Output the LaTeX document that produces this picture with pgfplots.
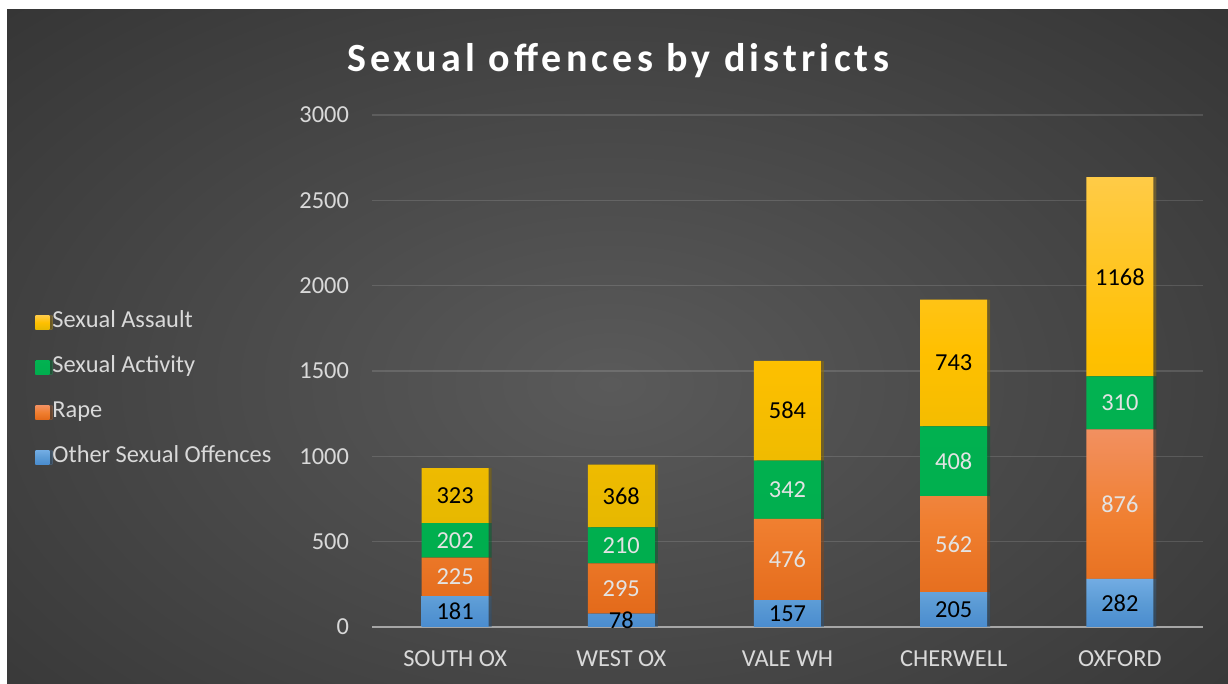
\documentclass[border=0pt]{standalone}
\usepackage{fontspec}
\setmainfont{Carlito}
\usepackage{pgfplots}
\pgfplotsset{compat=1.18}
\usepackage{pgfplotstable}
\usetikzlibrary{shadows}

\definecolor{bgin}{HTML}{5A5A5A}
\definecolor{bgout}{HTML}{262626}
\definecolor{lightt}{HTML}{D9D9D9}
\definecolor{labl}{HTML}{E3E3E3}
\definecolor{bluT}{HTML}{72ACE3}
\definecolor{bluM}{HTML}{5B9BD5}
\definecolor{bluB}{HTML}{4A8CCF}
\definecolor{orT}{HTML}{F29060}
\definecolor{orM}{HTML}{F07F30}
\definecolor{orB}{HTML}{E36A1A}
\definecolor{grT}{HTML}{02B251}
\definecolor{grB}{HTML}{00AE4E}
\definecolor{yeT}{HTML}{FFCB47}
\definecolor{yeM}{HTML}{FFC000}
\definecolor{yeB}{HTML}{E6B800}
\definecolor{axc}{HTML}{A6A6A6}

\pgfplotstableread{
x val
0 181
1 78
2 157
3 205
4 282
}\tother
\pgfplotstableread{
x val
0 225
1 295
2 476
3 562
4 876
}\trape
\pgfplotstableread{
x val
0 202
1 210
2 342
3 408
4 310
}\tact
\pgfplotstableread{
x val
0 323
1 368
2 584
3 743
4 1168
}\tass

\newcommand{\lblfont}{\fontsize{12.2}{14}\selectfont}

\begin{document}
\begin{tikzpicture}
\path[use as bounding box] (0,0) rectangle (614pt,342pt);
\fill[white] (0,0) rectangle (614pt,342pt);
\begin{scope}
\clip (3.5pt,0) rectangle (614pt,337pt);
\shade[inner color=bgin, outer color=bgout] (-315pt,-230pt) rectangle (925pt,530pt);
\end{scope}
\begin{axis}[
  at={(186pt,28.5pt)}, anchor=south west,
  scale only axis, width=415.5pt, height=256pt,
  ymin=0, ymax=3000, xmin=-0.5, xmax=4.5,
  ybar stacked, bar width=33.5pt,
  xtick={0,1,2,3,4},
  xticklabels={SOUTH OX,WEST OX,VALE WH,CHERWELL,OXFORD},
  ytick={0,500,1000,1500,2000,2500,3000},
  /pgf/number format/1000 sep={},
  /pgf/number format/assume math mode=true,
  axis x line*=bottom, axis y line*=left,
  x axis line style={draw=axc, line width=0.9pt},
  y axis line style={draw=none},
  major tick length=0pt,
  ymajorgrids, grid style={white, opacity=0.13, line width=0.6pt},
  ticklabel style={font=\lblfont, text=lightt},
  yticklabel style={xshift=-8pt},
  xticklabel style={yshift=-8.5pt},
  title={\addfontfeature{LetterSpace=10.5}Sexual offences by districts},
  title style={at={(axis description cs:0.296,1.082)}, anchor=center,
    font=\fontsize{20}{24}\bfseries, text=white},
  point meta=explicit,
  nodes near coords={\pgfmathprintnumber[1000 sep={},assume math mode=true]{\pgfplotspointmeta}},
  every node near coord/.append style={anchor=center, font=\lblfont},
  legend style={at={(axis description cs:-0.4055,0.622)}, anchor=north west,
    draw=none, fill=none, inner sep=0pt, font=\lblfont, text=lightt,
    row sep=9pt,
    nodes={inner sep=1.5pt, text height=8pt, text depth=2.5pt}},
  legend cell align=left,
  reverse legend,
  legend image code/.code={\fill[#1] (0pt,-3.5pt) rectangle (7pt,3.5pt);},
  barshadow/.style={drop shadow={shadow xshift=1.5pt, shadow yshift=0pt, opacity=0.3, fill=black}},
]
\addplot[draw=none, barshadow, top color=bluT, bottom color=bluB, middle color=bluM,
  every node near coord/.append style={text=black}]
  table[x=x, y=val, meta=val] {\tother};
\addlegendentry{Other Sexual Offences}
\addplot[draw=none, barshadow, top color=orT, bottom color=orB, middle color=orM,
  every node near coord/.append style={text=labl}]
  table[x=x, y=val, meta=val] {\trape};
\addlegendentry{Rape}
\addplot[draw=none, barshadow, top color=grT, bottom color=grB,
  every node near coord/.append style={text=labl}]
  table[x=x, y=val, meta=val] {\tact};
\addlegendentry{Sexual Activity}
\addplot[draw=none, barshadow, top color=yeT, bottom color=yeB, middle color=yeM,
  every node near coord/.append style={text=black}]
  table[x=x, y=val, meta=val] {\tass};
\addlegendentry{Sexual Assault}
\end{axis}
\end{tikzpicture}
\end{document}
